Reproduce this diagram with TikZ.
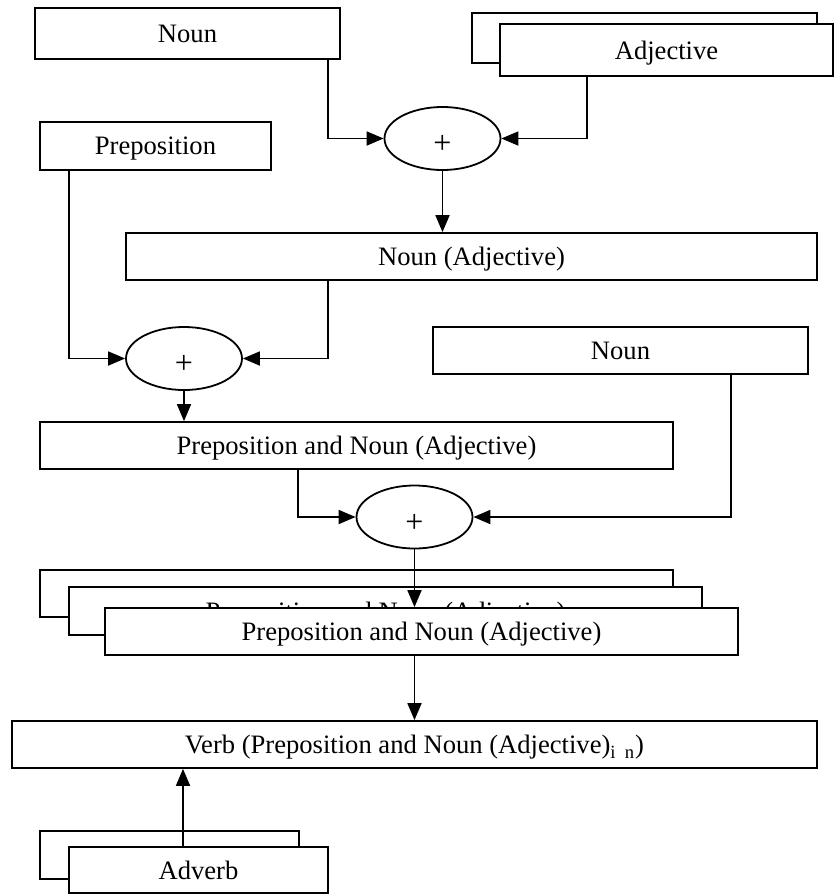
\documentclass[tikz,border=0pt]{standalone}
\usepackage{fontspec}
\setmainfont{Liberation Serif}
\usepackage{tikz}
\usetikzlibrary{arrows.meta,shapes.geometric}

\begin{document}
\begin{tikzpicture}[x=0.5pt,y=-0.5pt,line width=0.9pt,
  box/.style={draw,fill=white,rectangle,inner sep=0pt,text depth=0pt,font=\fontsize{13.3}{16}\selectfont},
  plus/.style={draw,fill=white,ellipse,inner sep=0pt,minimum width=58pt,minimum height=31.5pt,
    text height=15pt,text depth=0pt,font=\fontsize{16}{18}\selectfont},
  arr/.style={-{Triangle[length=8.5pt,width=7pt]}}]
\useasboundingbox (0,0) rectangle (835,895);
% top row
\node[box,minimum width=152.5pt,minimum height=25.5pt] (noun1) at (187.5,33.5) {Noun};
\node[box,minimum width=172.5pt,minimum height=25pt] (adjb) at (644.5,38) {};
\node[box,minimum width=166.5pt,minimum height=26pt] (adjf) at (666.5,50) {Adjective};
\node[plus] (plus1) at (442.5,138.5) {+};
\node[box,minimum width=115.5pt,minimum height=24pt] (prep) at (155.5,146) {Preposition};
\node[box,minimum width=345.5pt,minimum height=23.5pt] (nounadj) at (471.5,256.5) {Noun (Adjective)};
\node[plus] (plus2) at (184,358.5) {+};
\node[box,minimum width=187.5pt,minimum height=23.5pt] (noun2) at (620.5,350.5) {Noun};
\node[box,minimum width=316.5pt,minimum height=23.5pt] (prepnoun) at (356.5,445.5) {Preposition and Noun (Adjective)};
\node[plus] (plus3) at (414.5,517) {+};
% stacked results
\node[box,minimum width=316.5pt,minimum height=23.5pt] (pnb) at (356.5,593.5) {};
\node[box,minimum width=316.5pt,minimum height=24pt] (pnm) at (385.5,611) {Preposition and Noun (Adjective)};
\node[box,minimum width=316.5pt,minimum height=23.5pt] (pnf) at (421.5,631.5) {Preposition and Noun (Adjective)};
\node[box,minimum width=402.5pt,minimum height=23.5pt] (verb) at (414.5,744.5)
  {Verb (Preposition and Noun (Adjective)\textsubscript{i\ \ n})};
\node[box,minimum width=129.5pt,minimum height=24pt] (advb) at (169.5,855) {};
\node[box,minimum width=129.5pt,minimum height=23pt] (advf) at (198.5,870) {Adverb};
% connectors
\draw[arr] (noun1.south -| 328,0) |- (plus1.west);
\draw[arr] (adjf.south -| 587,0) |- (plus1.east);
\draw[arr] (plus1.south) -- (nounadj.north -| plus1);
\draw[arr] (prep.south -| 69,0) |- (plus2.west);
\draw[arr] (nounadj.south -| 328,0) |- (plus2.east);
\draw[arr] (plus2.south) -- (prepnoun.north -| plus2);
\draw[arr] (prepnoun.south -| 298,0) |- (plus3.west);
\draw[arr] (noun2.south -| 731,0) |- (plus3.east);
\draw[arr] (plus3.south) -- (pnf.north -| plus3);
\draw[arr] (pnf.south -| plus3) -- (verb.north -| plus3);
\draw[arr] (advf.north -| 183,0) -- (verb.south -| 183,0);
\end{tikzpicture}
\end{document}
